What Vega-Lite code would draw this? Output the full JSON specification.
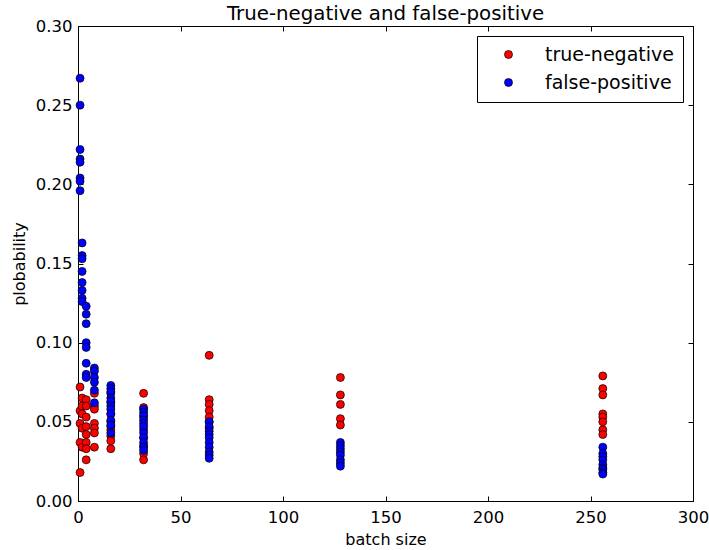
{
  "$schema": "https://vega.github.io/schema/vega-lite/v6.json",
  "autosize": "none",
  "width": 615,
  "height": 475,
  "padding": {"left": 78, "top": 26, "right": 16, "bottom": 49},
  "background": "white",
  "config": {
    "font": "DejaVu Sans",
    "view": {"stroke": "black", "strokeWidth": 1},
    "axis": {"grid": false, "domainColor": "black", "tickColor": "black", "labelColor": "black", "titleColor": "black", "labelFontSize": 16.5, "titleFontSize": 16, "titleFontWeight": "normal", "tickSize": -5, "labelFlush": false, "labelOverlap": false}
  },
  "title": {"text": "True-negative and false-positive", "fontSize": 19.8, "fontWeight": "normal", "offset": -6, "color": "black"},
  "datasets": {
    "tn": [
      {"batch": 1, "prob": 0.072, "type": "true-negative"},
      {"batch": 1, "prob": 0.057, "type": "true-negative"},
      {"batch": 1, "prob": 0.049, "type": "true-negative"},
      {"batch": 1, "prob": 0.037, "type": "true-negative"},
      {"batch": 1, "prob": 0.018, "type": "true-negative"},
      {"batch": 2, "prob": 0.065, "type": "true-negative"},
      {"batch": 2, "prob": 0.060, "type": "true-negative"},
      {"batch": 2, "prob": 0.055, "type": "true-negative"},
      {"batch": 2, "prob": 0.046, "type": "true-negative"},
      {"batch": 2, "prob": 0.034, "type": "true-negative"},
      {"batch": 4, "prob": 0.064, "type": "true-negative"},
      {"batch": 4, "prob": 0.060, "type": "true-negative"},
      {"batch": 4, "prob": 0.053, "type": "true-negative"},
      {"batch": 4, "prob": 0.047, "type": "true-negative"},
      {"batch": 4, "prob": 0.042, "type": "true-negative"},
      {"batch": 4, "prob": 0.037, "type": "true-negative"},
      {"batch": 4, "prob": 0.033, "type": "true-negative"},
      {"batch": 4, "prob": 0.026, "type": "true-negative"},
      {"batch": 8, "prob": 0.068, "type": "true-negative"},
      {"batch": 8, "prob": 0.060, "type": "true-negative"},
      {"batch": 8, "prob": 0.058, "type": "true-negative"},
      {"batch": 8, "prob": 0.049, "type": "true-negative"},
      {"batch": 8, "prob": 0.046, "type": "true-negative"},
      {"batch": 8, "prob": 0.043, "type": "true-negative"},
      {"batch": 8, "prob": 0.034, "type": "true-negative"},
      {"batch": 16, "prob": 0.068, "type": "true-negative"},
      {"batch": 16, "prob": 0.062, "type": "true-negative"},
      {"batch": 16, "prob": 0.055, "type": "true-negative"},
      {"batch": 16, "prob": 0.050, "type": "true-negative"},
      {"batch": 16, "prob": 0.047, "type": "true-negative"},
      {"batch": 16, "prob": 0.045, "type": "true-negative"},
      {"batch": 16, "prob": 0.041, "type": "true-negative"},
      {"batch": 16, "prob": 0.038, "type": "true-negative"},
      {"batch": 16, "prob": 0.033, "type": "true-negative"},
      {"batch": 32, "prob": 0.068, "type": "true-negative"},
      {"batch": 32, "prob": 0.059, "type": "true-negative"},
      {"batch": 32, "prob": 0.053, "type": "true-negative"},
      {"batch": 32, "prob": 0.045, "type": "true-negative"},
      {"batch": 32, "prob": 0.040, "type": "true-negative"},
      {"batch": 32, "prob": 0.035, "type": "true-negative"},
      {"batch": 32, "prob": 0.030, "type": "true-negative"},
      {"batch": 32, "prob": 0.026, "type": "true-negative"},
      {"batch": 64, "prob": 0.092, "type": "true-negative"},
      {"batch": 64, "prob": 0.064, "type": "true-negative"},
      {"batch": 64, "prob": 0.061, "type": "true-negative"},
      {"batch": 64, "prob": 0.057, "type": "true-negative"},
      {"batch": 64, "prob": 0.053, "type": "true-negative"},
      {"batch": 64, "prob": 0.050, "type": "true-negative"},
      {"batch": 64, "prob": 0.046, "type": "true-negative"},
      {"batch": 128, "prob": 0.078, "type": "true-negative"},
      {"batch": 128, "prob": 0.067, "type": "true-negative"},
      {"batch": 128, "prob": 0.061, "type": "true-negative"},
      {"batch": 128, "prob": 0.052, "type": "true-negative"},
      {"batch": 128, "prob": 0.048, "type": "true-negative"},
      {"batch": 256, "prob": 0.079, "type": "true-negative"},
      {"batch": 256, "prob": 0.071, "type": "true-negative"},
      {"batch": 256, "prob": 0.067, "type": "true-negative"},
      {"batch": 256, "prob": 0.055, "type": "true-negative"},
      {"batch": 256, "prob": 0.053, "type": "true-negative"},
      {"batch": 256, "prob": 0.050, "type": "true-negative"},
      {"batch": 256, "prob": 0.045, "type": "true-negative"},
      {"batch": 256, "prob": 0.042, "type": "true-negative"}
    ],
    "fp": [
      {"batch": 1, "prob": 0.267, "type": "false-positive"},
      {"batch": 1, "prob": 0.250, "type": "false-positive"},
      {"batch": 1, "prob": 0.222, "type": "false-positive"},
      {"batch": 1, "prob": 0.216, "type": "false-positive"},
      {"batch": 1, "prob": 0.214, "type": "false-positive"},
      {"batch": 1, "prob": 0.204, "type": "false-positive"},
      {"batch": 1, "prob": 0.202, "type": "false-positive"},
      {"batch": 1, "prob": 0.196, "type": "false-positive"},
      {"batch": 2, "prob": 0.163, "type": "false-positive"},
      {"batch": 2, "prob": 0.155, "type": "false-positive"},
      {"batch": 2, "prob": 0.153, "type": "false-positive"},
      {"batch": 2, "prob": 0.145, "type": "false-positive"},
      {"batch": 2, "prob": 0.138, "type": "false-positive"},
      {"batch": 2, "prob": 0.133, "type": "false-positive"},
      {"batch": 2, "prob": 0.128, "type": "false-positive"},
      {"batch": 2, "prob": 0.126, "type": "false-positive"},
      {"batch": 4, "prob": 0.123, "type": "false-positive"},
      {"batch": 4, "prob": 0.118, "type": "false-positive"},
      {"batch": 4, "prob": 0.112, "type": "false-positive"},
      {"batch": 4, "prob": 0.100, "type": "false-positive"},
      {"batch": 4, "prob": 0.097, "type": "false-positive"},
      {"batch": 4, "prob": 0.087, "type": "false-positive"},
      {"batch": 4, "prob": 0.080, "type": "false-positive"},
      {"batch": 4, "prob": 0.078, "type": "false-positive"},
      {"batch": 8, "prob": 0.084, "type": "false-positive"},
      {"batch": 8, "prob": 0.082, "type": "false-positive"},
      {"batch": 8, "prob": 0.078, "type": "false-positive"},
      {"batch": 8, "prob": 0.075, "type": "false-positive"},
      {"batch": 8, "prob": 0.070, "type": "false-positive"},
      {"batch": 8, "prob": 0.062, "type": "false-positive"},
      {"batch": 16, "prob": 0.073, "type": "false-positive"},
      {"batch": 16, "prob": 0.071, "type": "false-positive"},
      {"batch": 16, "prob": 0.069, "type": "false-positive"},
      {"batch": 16, "prob": 0.065, "type": "false-positive"},
      {"batch": 16, "prob": 0.063, "type": "false-positive"},
      {"batch": 16, "prob": 0.060, "type": "false-positive"},
      {"batch": 16, "prob": 0.058, "type": "false-positive"},
      {"batch": 16, "prob": 0.055, "type": "false-positive"},
      {"batch": 16, "prob": 0.051, "type": "false-positive"},
      {"batch": 16, "prob": 0.048, "type": "false-positive"},
      {"batch": 16, "prob": 0.043, "type": "false-positive"},
      {"batch": 32, "prob": 0.058, "type": "false-positive"},
      {"batch": 32, "prob": 0.056, "type": "false-positive"},
      {"batch": 32, "prob": 0.054, "type": "false-positive"},
      {"batch": 32, "prob": 0.051, "type": "false-positive"},
      {"batch": 32, "prob": 0.049, "type": "false-positive"},
      {"batch": 32, "prob": 0.047, "type": "false-positive"},
      {"batch": 32, "prob": 0.043, "type": "false-positive"},
      {"batch": 32, "prob": 0.040, "type": "false-positive"},
      {"batch": 32, "prob": 0.037, "type": "false-positive"},
      {"batch": 32, "prob": 0.034, "type": "false-positive"},
      {"batch": 32, "prob": 0.032, "type": "false-positive"},
      {"batch": 64, "prob": 0.050, "type": "false-positive"},
      {"batch": 64, "prob": 0.047, "type": "false-positive"},
      {"batch": 64, "prob": 0.044, "type": "false-positive"},
      {"batch": 64, "prob": 0.042, "type": "false-positive"},
      {"batch": 64, "prob": 0.040, "type": "false-positive"},
      {"batch": 64, "prob": 0.037, "type": "false-positive"},
      {"batch": 64, "prob": 0.034, "type": "false-positive"},
      {"batch": 64, "prob": 0.031, "type": "false-positive"},
      {"batch": 64, "prob": 0.029, "type": "false-positive"},
      {"batch": 64, "prob": 0.027, "type": "false-positive"},
      {"batch": 128, "prob": 0.037, "type": "false-positive"},
      {"batch": 128, "prob": 0.035, "type": "false-positive"},
      {"batch": 128, "prob": 0.033, "type": "false-positive"},
      {"batch": 128, "prob": 0.031, "type": "false-positive"},
      {"batch": 128, "prob": 0.029, "type": "false-positive"},
      {"batch": 128, "prob": 0.026, "type": "false-positive"},
      {"batch": 128, "prob": 0.024, "type": "false-positive"},
      {"batch": 128, "prob": 0.022, "type": "false-positive"},
      {"batch": 256, "prob": 0.034, "type": "false-positive"},
      {"batch": 256, "prob": 0.030, "type": "false-positive"},
      {"batch": 256, "prob": 0.028, "type": "false-positive"},
      {"batch": 256, "prob": 0.026, "type": "false-positive"},
      {"batch": 256, "prob": 0.023, "type": "false-positive"},
      {"batch": 256, "prob": 0.021, "type": "false-positive"},
      {"batch": 256, "prob": 0.020, "type": "false-positive"},
      {"batch": 256, "prob": 0.018, "type": "false-positive"},
      {"batch": 256, "prob": 0.017, "type": "false-positive"}
    ]
  },
  "layer": [
    {
      "data": {"name": "tn"},
      "mark": {"type": "point", "shape": "circle", "filled": true, "size": 64, "stroke": "black", "strokeWidth": 0.7, "opacity": 1},
      "encoding": {
        "x": {"field": "batch", "type": "quantitative", "scale": {"domain": [0, 300], "nice": false, "zero": false}, "axis": {"orient": "bottom", "title": "batch size", "values": [0, 50, 100, 150, 200, 250, 300], "labelPadding": 13, "titlePadding": 6}},
        "y": {"field": "prob", "type": "quantitative", "scale": {"domain": [0, 0.3], "nice": false}, "axis": {"orient": "left", "title": "plobability", "values": [0, 0.05, 0.1, 0.15, 0.2, 0.25, 0.3], "format": ".2f", "labelPadding": 11, "titlePadding": 8}},
        "color": {"field": "type", "type": "nominal", "scale": {"domain": ["true-negative", "false-positive"], "range": ["#ff0000", "#0000ff"]}, "legend": {"title": null, "orient": "top-right", "offset": 10, "strokeColor": "black", "fillColor": "white", "padding": 9, "labelFontSize": 19, "labelColor": "black", "symbolSize": 64, "symbolStrokeColor": "black", "symbolStrokeWidth": 0.7, "symbolType": "circle", "rowPadding": 8, "symbolOffset": 13, "labelOffset": 27}}
      }
    },
    {
      "data": {"name": "fp"},
      "mark": {"type": "point", "shape": "circle", "filled": true, "size": 64, "stroke": "black", "strokeWidth": 0.7, "opacity": 1},
      "encoding": {
        "x": {"field": "batch", "type": "quantitative", "axis": {"orient": "top", "labels": false, "title": null, "domain": false, "values": [0, 50, 100, 150, 200, 250, 300]}},
        "y": {"field": "prob", "type": "quantitative", "axis": {"orient": "right", "labels": false, "title": null, "domain": false, "values": [0, 0.05, 0.1, 0.15, 0.2, 0.25, 0.3]}},
        "color": {"field": "type", "type": "nominal"}
      }
    }
  ],
  "resolve": {"axis": {"x": "independent", "y": "independent"}}
}
